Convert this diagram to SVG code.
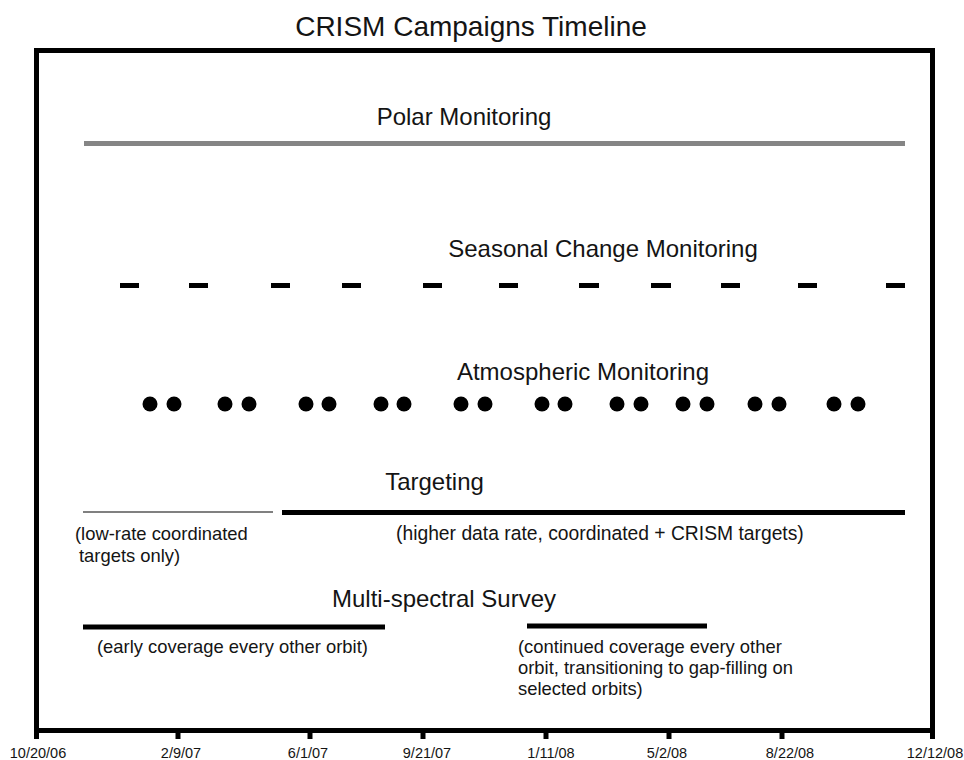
<svg xmlns="http://www.w3.org/2000/svg" width="964" height="760" viewBox="0 0 964 760">
<style>
text{font-family:"Liberation Sans",Arial,Helvetica,sans-serif;fill:#141414}
.lbl{font-size:24px;text-anchor:middle}
.note{font-size:18.4px}
.tick{font-size:14.5px;text-anchor:middle}
.bar{stroke:#000;stroke-width:5;fill:none}
.dash{stroke:#000;stroke-width:5}
.dot{fill:#000}
</style>
<rect width="964" height="760" fill="#fff"/>
<text x="471" y="36" style="font-size:28px;text-anchor:middle">CRISM Campaigns Timeline</text>
<g id="frame">
<rect x="36.5" y="50.5" width="896" height="680" fill="none" stroke="#000" stroke-width="5"/>
<g stroke="#000" stroke-width="5">
<line x1="36.5" y1="728" x2="36.5" y2="739"/>
<line x1="178" y1="728" x2="178" y2="739"/>
<line x1="310" y1="728" x2="310" y2="739"/>
<line x1="423" y1="728" x2="423" y2="739"/>
<line x1="546" y1="728" x2="546" y2="739"/>
<line x1="669" y1="728" x2="669" y2="739"/>
<line x1="782" y1="728" x2="782" y2="739"/>
<line x1="932.5" y1="728" x2="932.5" y2="739"/>
</g>
<text class="tick" x="38" y="758">10/20/06</text>
<text class="tick" x="181" y="758">2/9/07</text>
<text class="tick" x="308" y="758">6/1/07</text>
<text class="tick" x="427" y="758">9/21/07</text>
<text class="tick" x="551" y="758">1/11/08</text>
<text class="tick" x="667" y="758">5/2/08</text>
<text class="tick" x="790" y="758">8/22/08</text>
<text class="tick" x="935" y="758">12/12/08</text>
</g>
<g id="polar">
<text class="lbl" x="464" y="125">Polar Monitoring</text>
<line x1="84" y1="143.5" x2="905" y2="143.5" stroke="#858585" stroke-width="5"/>
</g>
<g id="seasonal">
<text class="lbl" x="603" y="257">Seasonal Change Monitoring</text>
<g class="dash">
<line x1="120" y1="285.5" x2="139" y2="285.5"/>
<line x1="189" y1="285.5" x2="208" y2="285.5"/>
<line x1="271" y1="285.5" x2="290" y2="285.5"/>
<line x1="342" y1="285.5" x2="361" y2="285.5"/>
<line x1="423" y1="285.5" x2="442" y2="285.5"/>
<line x1="499" y1="285.5" x2="518" y2="285.5"/>
<line x1="579" y1="285.5" x2="599" y2="285.5"/>
<line x1="651" y1="285.5" x2="671" y2="285.5"/>
<line x1="721" y1="285.5" x2="740" y2="285.5"/>
<line x1="798" y1="285.5" x2="817" y2="285.5"/>
<line x1="886" y1="285.5" x2="905" y2="285.5"/>
</g>
</g>
<g id="atmospheric">
<text class="lbl" x="583" y="380">Atmospheric Monitoring</text>
<g class="dot">
<circle cx="150" cy="404" r="7.5"/><circle cx="174" cy="404" r="7.5"/>
<circle cx="225" cy="404" r="7.5"/><circle cx="249" cy="404" r="7.5"/>
<circle cx="306" cy="404" r="7.5"/><circle cx="329" cy="404" r="7.5"/>
<circle cx="381" cy="404" r="7.5"/><circle cx="404" cy="404" r="7.5"/>
<circle cx="461" cy="404" r="7.5"/><circle cx="485" cy="404" r="7.5"/>
<circle cx="542" cy="404" r="7.5"/><circle cx="565" cy="404" r="7.5"/>
<circle cx="617" cy="404" r="7.5"/><circle cx="641" cy="404" r="7.5"/>
<circle cx="683" cy="404" r="7.5"/><circle cx="707" cy="404" r="7.5"/>
<circle cx="755" cy="404" r="7.5"/><circle cx="779" cy="404" r="7.5"/>
<circle cx="834" cy="404" r="7.5"/><circle cx="858" cy="404" r="7.5"/>
</g>
</g>
<g id="targeting">
<text class="lbl" x="434.5" y="490">Targeting</text>
<line x1="83" y1="512" x2="273" y2="512" stroke="#808080" stroke-width="2"/>
<line class="bar" x1="282" y1="512.5" x2="905" y2="512.5"/>
<text class="note" x="75" y="540">(low-rate coordinated</text>
<text class="note" x="79" y="562">targets only)</text>
<text x="396" y="540" style="font-size:19.3px">(higher data rate, coordinated + CRISM targets)</text>
</g>
<g id="multispectral">
<text class="lbl" x="444" y="607">Multi-spectral Survey</text>
<line class="bar" x1="83" y1="627" x2="385" y2="627"/>
<line class="bar" x1="527" y1="626" x2="707" y2="626"/>
<text class="note" x="97" y="653">(early coverage every other orbit)</text>
<text class="note" x="518" y="653">(continued coverage every other</text>
<text class="note" x="518" y="674">orbit, transitioning to gap-filling on</text>
<text class="note" x="518" y="695">selected orbits)</text>
</g>
<g id="connectors"/>
</svg>
